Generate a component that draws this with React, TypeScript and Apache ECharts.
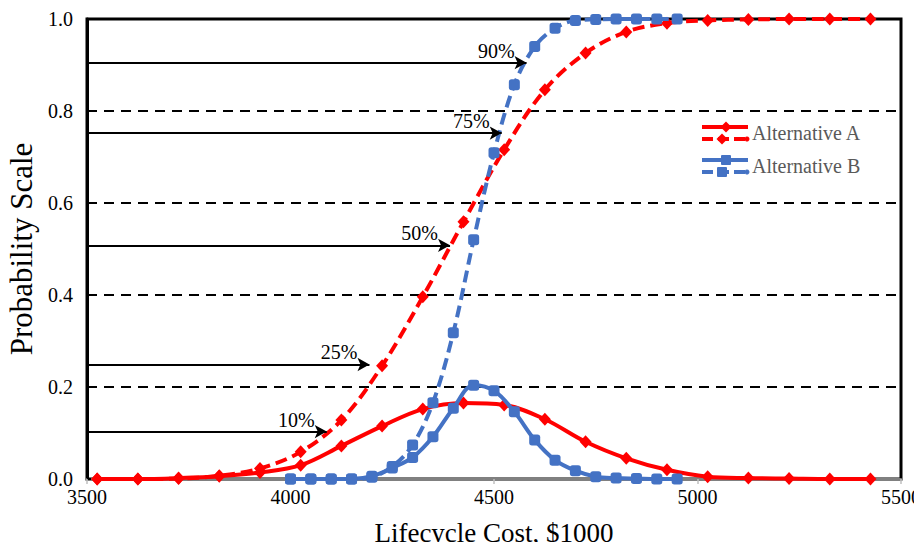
import React, { useEffect, useRef } from "react";
import * as echarts from "echarts";

const costA = [3525, 3625, 3725, 3825, 3925, 4025, 4125, 4225, 4325, 4425, 4525, 4625, 4725, 4825, 4925, 5025, 5125, 5225, 5325, 5425];
const pdfA = [0, 0, 0.002, 0.006, 0.014, 0.03, 0.072, 0.115, 0.152, 0.165, 0.161, 0.13, 0.081, 0.045, 0.02, 0.005, 0.002, 0.001, 0, 0];
const cdfA = [0, 0, 0.001, 0.007, 0.023, 0.059, 0.128, 0.246, 0.396, 0.559, 0.716, 0.846, 0.926, 0.972, 0.991, 0.997, 0.999, 1, 1, 1];

const costB = [4000, 4050, 4100, 4150, 4200, 4250, 4300, 4350, 4400, 4450, 4500, 4550, 4600, 4650, 4700, 4750, 4800, 4850, 4900, 4950];
const pdfB = [0, 0, 0, 0, 0.006, 0.024, 0.047, 0.092, 0.154, 0.204, 0.192, 0.146, 0.085, 0.041, 0.018, 0.005, 0.002, 0.001, 0, 0];
const cdfB = [0, 0, 0, 0, 0.004, 0.027, 0.074, 0.166, 0.318, 0.52, 0.709, 0.857, 0.94, 0.98, 0.997, 0.999, 1, 1, 1, 1];

const arrowLabels = ["10%", "25%", "50%", "75%", "90%"];
const arrowLevels = [0.103, 0.249, 0.508, 0.752, 0.905];
const arrowEnds = [4089, 4194, 4392, 4519, 4580];

const yTicks = [0, 0.2, 0.4, 0.6, 0.8, 1.0];
const xTicks = [3500, 4000, 4500, 5000, 5500];

const legendNames = ["Alternative A", "Alternative B"];

const RED = "#FF0000";
const BLUE = "#4472C4";
const FONT = "Liberation Serif";

function zip(xs: number[], ys: number[]) {
  return xs.map((x, i) => [x, ys[i]]);
}

function diamond(cx: number, cy: number, w: number, h: number, color: string) {
  return {
    type: "polygon",
    shape: { points: [[cx, cy - h / 2], [cx + w / 2, cy], [cx, cy + h / 2], [cx - w / 2, cy]] },
    style: { fill: color },
    z: 100,
  };
}

function legendItem(y: number, color: string, name: string, square: boolean) {
  const marker = (cx: number, cy: number) =>
    square
      ? { type: "rect", shape: { x: cx - 5, y: cy - 5, width: 10, height: 10, r: 1 }, style: { fill: color }, z: 100 }
      : diamond(cx, cy, 11, 11, color);
  return [
    { type: "line", shape: { x1: 702, y1: y - 6, x2: 748, y2: y - 6 }, style: { stroke: color, lineWidth: 4 }, z: 100 },
    marker(726, y - 6),
    { type: "line", shape: { x1: 702, y1: y + 6, x2: 748, y2: y + 6 }, style: { stroke: color, lineWidth: 4, lineDash: [11, 5] }, z: 100 },
    marker(722, y + 6),
    { type: "circle", shape: { cx: 747, cy: y + 6, r: 2.5 }, style: { fill: color }, z: 100 },
    {
      type: "text",
      x: 752,
      y: y,
      style: { text: name, fill: "#595959", fontSize: 20, fontFamily: FONT, verticalAlign: "middle", align: "left" },
      z: 100,
    },
  ];
}

export default function App() {
  const ref = useRef<HTMLDivElement>(null);
  useEffect(() => {
    if (!ref.current) return;
    const chart = echarts.init(ref.current, null, { renderer: "svg" });
    const markLineData = arrowLabels.map((lab, i) => [
      { coord: [xTicks[0], arrowLevels[i]], name: lab },
      { coord: [arrowEnds[i], arrowLevels[i]] },
    ]);
    const option: any = {
      animation: false,
      textStyle: { fontFamily: FONT },
      grid: {
        left: 87,
        right: 21,
        top: 19,
        bottom: 71,
        containLabel: false,
        outerBoundsMode: "none",
        show: true,
        borderColor: "#000",
        borderWidth: 3,
        backgroundColor: "transparent",
      },
      xAxis: {
        type: "value",
        min: xTicks[0],
        max: xTicks[xTicks.length - 1],
        interval: 500,
        name: "Lifecycle Cost, $1000",
        nameLocation: "middle",
        nameGap: 40,
        nameTextStyle: { fontSize: 27, color: "#000", fontFamily: FONT },
        axisLine: { show: true, lineStyle: { color: "#808080", width: 3 } },
        axisTick: { show: true, length: 5, lineStyle: { color: "#bfbfbf", width: 1.5 } },
        axisLabel: {
          fontSize: 20,
          color: "#000",
          margin: 8,
          fontFamily: FONT,
          hideOverlap: false,
          formatter: (v: number) => String(v),
        },
        splitLine: { show: false },
      },
      yAxis: {
        type: "value",
        min: yTicks[0],
        max: yTicks[yTicks.length - 1],
        interval: 0.2,
        name: "Probability Scale",
        nameLocation: "middle",
        nameGap: 44,
        nameTextStyle: { fontSize: 31, color: "#000", fontFamily: FONT },
        axisLine: { show: true, lineStyle: { color: "#000", width: 3 } },
        axisTick: { show: true, inside: true, length: 4, lineStyle: { color: "#000", width: 2 } },
        axisLabel: { fontSize: 20, color: "#000", margin: 14, fontFamily: FONT, formatter: (v: number) => v.toFixed(1) },
        splitLine: { show: true, lineStyle: { color: "#000", width: 2, type: [10, 7] } },
      },
      series: [
        {
          name: "A pdf",
          type: "line",
          data: zip(costA, pdfA),
          smooth: 0.35,
          symbol: "diamond",
          symbolSize: [12, 13],
          showAllSymbol: true,
          lineStyle: { color: RED, width: 4 },
          itemStyle: { color: RED },
          z: 3,
        },
        {
          name: "A cdf",
          type: "line",
          data: zip(costA, cdfA),
          smooth: 0.35,
          symbol: "diamond",
          symbolSize: [12, 13],
          showAllSymbol: true,
          lineStyle: { color: RED, width: 4, type: [12, 6] },
          itemStyle: { color: RED },
          z: 3,
        },
        {
          name: "B pdf",
          type: "line",
          data: zip(costB, pdfB),
          smooth: 0.35,
          symbol: "roundRect",
          symbolSize: 11,
          showAllSymbol: true,
          lineStyle: { color: BLUE, width: 4 },
          itemStyle: { color: BLUE },
          z: 4,
        },
        {
          name: "B cdf",
          type: "line",
          data: zip(costB, cdfB),
          smooth: 0.35,
          symbol: "roundRect",
          symbolSize: 11,
          showAllSymbol: true,
          lineStyle: { color: BLUE, width: 4, type: [12, 6] },
          itemStyle: { color: BLUE },
          z: 4,
        },
        {
          name: "arrows",
          type: "line",
          data: [],
          z: 5,
          markLine: {
            silent: true,
            animation: false,
            symbol: ["none", "arrow"],
            symbolSize: [10, 12],
            lineStyle: { color: "#000", width: 2, type: "solid" },
            label: {
              show: true,
              position: "insideEndTop",
              formatter: "{b}",
              color: "#000",
              fontSize: 20,
              fontFamily: FONT,
              distance: [12, 2],
            },
            emphasis: { disabled: true },
            data: markLineData,
          },
        },
      ],
      graphic: [
        ...legendItem(133, RED, legendNames[0], false),
        ...legendItem(166, BLUE, legendNames[1], true),
      ],
    };
    chart.setOption(option);
    return () => chart.dispose();
  }, []);
  return <div ref={ref} style={{ width: 922, height: 550, margin: -8 }} />;
}
